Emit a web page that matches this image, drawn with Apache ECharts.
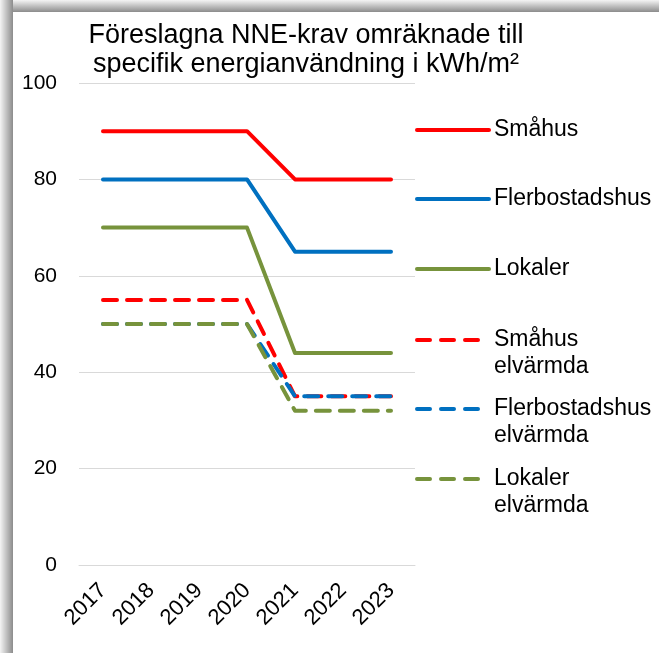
<!DOCTYPE html>
<html>
<head>
<meta charset="utf-8">
<script src="https://cdn.jsdelivr.net/npm/echarts@6/dist/echarts.min.js"></script>
<style>
  html, body { margin: 0; padding: 0; background: #fff; }
  #chart { position: absolute; left: 0; top: 0; width: 659px; height: 653px; }
  .shade-top {
    position: absolute; left: 0; top: 0; width: 659px; height: 12px;
    background: linear-gradient(to bottom, #f4f4f4, #8c8c8c);
  }
  .shade-left {
    position: absolute; left: 0; top: 0; width: 13px; height: 653px;
    background: linear-gradient(to right, #f4f4f4, #8c8c8c);
  }
</style>
</head>
<body>
<div id="chart"></div>
<div class="shade-top"></div>
<div class="shade-left"></div>
<script>
const years = ['2017', '2018', '2019', '2020', '2021', '2022', '2023']

const smahus = [90, 90, 90, 90, 80, 80, 80]
const flerbostadshus = [80, 80, 80, 80, 65, 65, 65]
const lokaler = [70, 70, 70, 70, 44, 44, 44]
const smahusEl = [55, 55, 55, 55, 35, 35, 35]
const flerbostadshusEl = [50, 50, 50, 50, 35, 35, 35]
const lokalerEl = [50, 50, 50, 50, 32, 32, 32]

const red = '#ff0000'
const blue = '#0070c0'
const green = '#77933c'
const font = 'Liberation Sans, Arial, sans-serif'

function line(name, data, color, dashed) {
  return {
    name: name,
    type: 'line',
    data: data,
    symbol: 'none',
    showSymbol: false,
    silent: true,
    lineStyle: {
      color: color,
      width: 4,
      type: dashed ? [14, 10] : 'solid',
      cap: 'round',
      join: 'round',
    },
    itemStyle: { color: color },
  }
}

const series = [
  line('Småhus', smahus, red, false),
  line('Flerbostadshus', flerbostadshus, blue, false),
  line('Lokaler', lokaler, green, false),
  line('Småhus elvärmda', smahusEl, red, true),
  line('Flerbostadshus elvärmda', flerbostadshusEl, blue, true),
  line('Lokaler elvärmda', lokalerEl, green, true),
]

// one legend per item so each row sits where it does in the picture
const legendCenters = [130, 199, 269, 340, 409, 479]
const legends = series.map((s, i) => {
  const twoLine = s.name.indexOf(' ') > 0
  return {
    data: [s.name],
    left: 415,
    top: legendCenters[i] - (twoLine ? 40.5 : 13.5),
    padding: 0,
    itemWidth: 72,
    itemHeight: 14,
    itemGap: 6,
    selectedMode: false,
    itemStyle: { opacity: 0 },
    lineStyle: { width: 4, cap: 'round', type: twoLine ? [13, 11] : 'solid' },
    // blank first line keeps the icon level with the name's first line
    formatter: (name) => (twoLine ? '\n' + name.replace(' ', '\n') : name),
    textStyle: {
      fontFamily: font,
      fontSize: 23,
      color: '#000',
      lineHeight: 27,
    },
  }
})

const chart = echarts.init(document.getElementById('chart'), null, { renderer: 'canvas' })

chart.setOption({
  animation: false,
  backgroundColor: '#fff',
  title: {
    text: 'Föreslagna NNE-krav omräknade till\nspecifik energianvändning i kWh/m²',
    left: 301,
    top: 16,
    textAlign: 'center',
    textStyle: {
      fontFamily: font,
      fontSize: 27,
      fontWeight: 'normal',
      color: '#000',
      lineHeight: 29,
    },
  },
  legend: legends,
  grid: { left: 79, top: 83, width: 336, height: 482 },
  xAxis: {
    type: 'category',
    data: years,
    boundaryGap: true,
    axisLine: { lineStyle: { color: '#d9d9d9', width: 1 } },
    axisTick: { show: false },
    axisLabel: {
      rotate: 45,
      margin: 22,
      fontFamily: font,
      fontSize: 22,
      color: '#000',
    },
  },
  yAxis: {
    type: 'value',
    min: 0,
    max: 100,
    interval: 20,
    axisLine: { show: false },
    axisTick: { show: false },
    splitLine: { lineStyle: { color: '#d9d9d9', width: 1 } },
    axisLabel: {
      margin: 22,
      fontFamily: font,
      fontSize: 21,
      color: '#000',
    },
  },
  series: series,
})
</script>
</body>
</html>
